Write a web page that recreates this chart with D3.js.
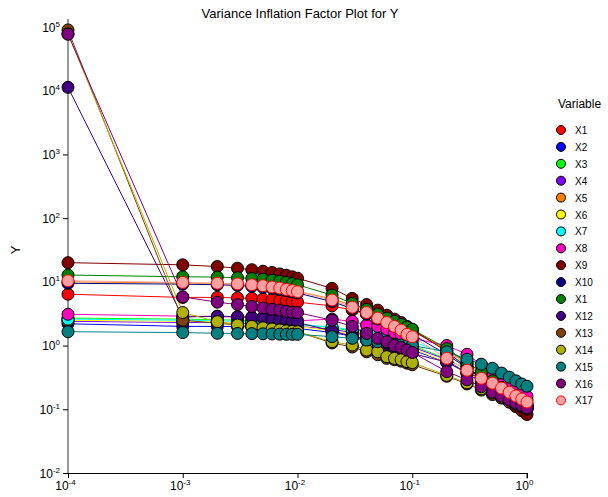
<html>
<style>
  body { margin: 0; background: #fff; font-family: "Liberation Sans", Arial, sans-serif; }
  svg text { fill: #000; }
</style>
<script src="https://d3js.org/d3.v7.min.js"></script>
<body>
<svg id="chart"></svg>
</body>
<script>
// ridge k values
let kValues = [0.0001,
  0.001, 0.002, 0.003, 0.004, 0.005, 0.006, 0.007, 0.008, 0.009,
  0.01, 0.02, 0.03, 0.04, 0.05, 0.06, 0.07, 0.08, 0.09,
  0.1, 0.2, 0.3, 0.4, 0.5, 0.6, 0.7, 0.8, 0.9, 1]

let xTickExps = [-4, -3, -2, -1, 0]
let yTickExps = [-2, -1, 0, 1, 2, 3, 4, 5]

let seriesNames = ["X1","X2","X3","X4","X5","X6","X7","X8","X9","X10","X1","X12","X13","X14","X15","X16","X17"]
let seriesColors = ["#ff0000","#0000ff","#00ff00","#8000ff","#ff8000","#ffff00","#00ffff","#ff00c0",
  "#800000","#000080","#008000","#400080","#804000","#b0b000","#008080","#800080","#ffa0a0"]

let vifX1 = [6.4, 5.7,5.7,5.6,5.5,5.4,5.3,5.1,5.0,4.9, 4.8,4.2,3.6,3.1,2.7,2.4,2.2,2.0,1.85, 1.7,0.85,0.55,0.38,0.28,0.22,0.18,0.15,0.13,0.115]
let vifX2 = [2.2, 2.0,2.0,1.98,1.96,1.95,1.93,1.92,1.9,1.88, 1.86,1.6,1.4,1.27,1.17,1.08,1.0,0.95,0.9, 0.85,0.55,0.37,0.27,0.21,0.17,0.15,0.13,0.115,0.1]
let vifX3 = [2.7, 2.6,2.55,2.5,2.45,2.4,2.35,2.3,2.25,2.2, 2.15,1.9,1.7,1.55,1.42,1.3,1.2,1.12,1.05, 1.0,0.62,0.42,0.31,0.25,0.2,0.17,0.15,0.13,0.12]
let vifX4 = [2.4, 2.3,2.3,2.25,2.2,2.2,2.15,2.1,2.1,2.05, 2.0,1.8,1.6,1.45,1.32,1.22,1.13,1.05,1.0, 0.95,0.6,0.36,0.27,0.21,0.17,0.15,0.13,0.12,0.105]
let vifX5 = [10.0, 9.6,9.4,9.2,8.9,8.6,8.3,8.0,7.7,7.4, 7.1,5.4,4.3,3.6,3.1,2.7,2.4,2.15,1.95, 1.8,0.85,0.5,0.34,0.25,0.2,0.16,0.14,0.12,0.11]
let vifX6 = [2.5, 2.4,2.35,2.3,2.25,2.2,2.15,2.1,2.05,2.0, 2.0,1.7,1.5,1.35,1.25,1.15,1.08,1.0,0.95, 0.9,0.55,0.38,0.28,0.22,0.18,0.15,0.13,0.12,0.11]
let vifX7 = [2.6, 2.5,2.45,2.4,2.38,2.35,2.3,2.25,2.2,2.18, 2.15,1.95,1.78,1.65,1.55,1.45,1.35,1.28,1.22, 1.15,0.75,0.5,0.37,0.29,0.24,0.2,0.17,0.15,0.14]
let vifX8 = [3.1, 2.9,2.85,2.8,2.75,2.7,2.65,2.6,2.55,2.5, 2.45,2.6,2.4,2.1,2.0,1.8,1.6,1.5,1.4, 1.3,1.0,0.73,0.5,0.38,0.3,0.25,0.21,0.18,0.16]
let vifX9 = [20, 18.5,17.4,16.4,15.5,14.7,14.0,13.3,12.7,12.0, 11.4,7.9,5.5,4.4,3.6,3.0,2.6,2.3,2.0, 1.8,0.8,0.45,0.3,0.21,0.16,0.13,0.11,0.095,0.083]
let vifX10 = [9.5, 9.2,9.0,8.8,8.5,8.2,7.9,7.6,7.3,7.0, 6.7,4.9,3.8,3.1,2.6,2.3,2.0,1.8,1.65, 1.5,0.72,0.45,0.32,0.24,0.19,0.16,0.14,0.12,0.11]
let vifX11 = [12.8, 12.0,11.9,11.6,11.3,11.0,10.6,10.2,9.8,9.4, 9.0,6.2,4.6,3.7,3.1,2.7,2.4,2.15,1.95, 1.8,0.9,0.55,0.38,0.28,0.22,0.18,0.15,0.13,0.11]
let vifX12 = [11300, 2.8,2.9,2.85,2.8,2.75,2.6,2.5,2.4,2.35, 2.3,1.7,1.4,1.2,1.05,0.95,0.88,0.82,0.78, 0.75,0.55,0.38,0.3,0.24,0.2,0.17,0.15,0.13,0.12]
let vifX13 = [90000, 2.5,2.25,2.1,2.0,1.9,1.85,1.8,1.75,1.7, 1.65,1.1,0.95,0.8,0.72,0.63,0.6,0.57,0.53, 0.5,0.33,0.25,0.2,0.17,0.15,0.13,0.12,0.11,0.1]
let vifX14 = [78000, 3.3,2.37,2.1,2.0,1.9,1.82,1.76,1.7,1.67, 1.65,1.15,1.02,0.85,0.8,0.67,0.63,0.6,0.56, 0.54,0.34,0.26,0.21,0.18,0.155,0.14,0.125,0.115,0.105]
let vifX15 = [1.65, 1.6,1.56,1.55,1.54,1.53,1.52,1.51,1.5,1.5, 1.5,1.38,1.3,1.22,1.15,1.1,1.05,1.02,1.0, 1.0,0.8,0.61,0.51,0.44,0.37,0.32,0.28,0.25,0.23]
let vifX16 = [77000, 5.8,4.8,4.4,4.1,3.9,3.7,3.6,3.45,3.35, 3.3,2.5,2.0,1.55,1.3,1.15,1.0,0.93,0.85, 0.78,0.39,0.29,0.226,0.185,0.16,0.14,0.125,0.115,0.105]
let vifX17 = [10.4, 9.8,9.5,9.3,9.0,8.7,8.3,8.0,7.6,7.3, 7.0,5.2,4.0,3.3,2.7,2.3,2.0,1.75,1.5, 1.38,0.63,0.41,0.306,0.257,0.215,0.185,0.162,0.145,0.13]

let seriesValues = [vifX1, vifX2, vifX3, vifX4, vifX5, vifX6, vifX7, vifX8, vifX9,
  vifX10, vifX11, vifX12, vifX13, vifX14, vifX15, vifX16, vifX17]

function drawChart() {
  let width = 608, height = 497
  let left = 68, right = 527, top = 27, bottom = 473
  let svg = d3.select("#chart").attr("width", width).attr("height", height)

  let x = d3.scaleLog().domain([1e-4, 1]).range([left, right])
  let y = d3.scaleLog().domain([1e-2, 1e5]).range([bottom, top])

  // title + axis title
  svg.append("text").attr("x", 300).attr("y", 18).attr("text-anchor", "middle")
    .style("font-size", "13px").text("Variance Inflation Factor Plot for Y")
  svg.append("text").attr("transform", "translate(20,250) rotate(-90)")
    .attr("text-anchor", "middle").style("font-size", "13px").text("Y")

  // axes
  let xAxis = d3.axisBottom(x).tickValues(xTickExps.map(e => Math.pow(10, e)))
    .tickSize(5).tickFormat("")
  let gx = svg.append("g").attr("transform", `translate(0,${bottom})`).call(xAxis)
  gx.select(".domain").attr("stroke", "#000").attr("d", `M${left},0.5H${right}V5.5`)
  gx.selectAll(".tick").each(function(d, i) {
    let t = d3.select(this).append("text").attr("y", 17).attr("text-anchor", "middle")
      .style("font-size", "12px").attr("dx", "-3")
    t.append("tspan").text("10")
    t.append("tspan").attr("dy", -5).style("font-size", "8px").text(xTickExps[i])
  })

  let yAxis = d3.axisLeft(y).tickValues(yTickExps.map(e => Math.pow(10, e)))
    .tickSize(5).tickFormat("")
  let gy = svg.append("g").attr("transform", `translate(${left},0)`).call(yAxis)
  gy.select(".domain").attr("stroke", "#777").attr("stroke-width", 1.5)
    .attr("d", `M0,${top - 8}V${bottom}`)
  gy.selectAll(".tick").each(function(d, i) {
    let t = d3.select(this).append("text").attr("x", -8).attr("dy", 4).attr("text-anchor", "end")
      .style("font-size", "12px")
    t.append("tspan").text("10")
    t.append("tspan").attr("dy", -5).style("font-size", "8px").text(yTickExps[i])
  })
  svg.selectAll(".tick text").attr("fill", "#000")
  svg.selectAll(".tick line").attr("stroke", "#000")

  let line = d3.line().x((d, i) => x(kValues[i])).y(d => y(d))

  // lines first
  svg.append("g").selectAll("path").data(seriesValues).enter().append("path")
    .attr("d", d => line(d)).attr("fill", "none")
    .attr("stroke", (d, i) => seriesColors[i]).attr("stroke-width", 1)

  // markers
  seriesValues.forEach((vals, si) => {
    svg.append("g").selectAll("circle").data(vals).enter().append("circle")
      .attr("cx", (d, i) => x(kValues[i])).attr("cy", d => y(d)).attr("r", 6)
      .attr("fill", seriesColors[si])
      .attr("stroke", si == 16 ? "#ff0000" : "#000").attr("stroke-width", 1)
  })

  // legend
  let lg = svg.append("g")
  lg.append("text").attr("x", 558).attr("y", 108).style("font-size", "12px").text("Variable")
  seriesNames.forEach((name, i) => {
    let cy = 130 + i * 16.9
    lg.append("circle").attr("cx", 561).attr("cy", cy).attr("r", 4.5)
      .attr("fill", seriesColors[i]).attr("stroke", i == 16 ? "#ff0000" : "#000").attr("stroke-width", 1)
    lg.append("text").attr("x", 575).attr("y", cy + 4).style("font-size", "10px").text(name)
  })
}
drawChart()
</script>
</html>
